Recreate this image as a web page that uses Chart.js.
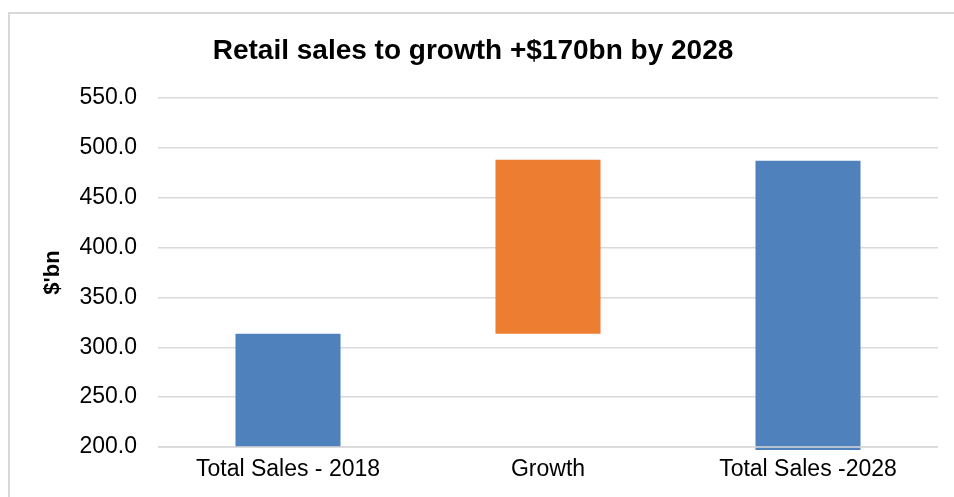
<!DOCTYPE html>
<html>
<head>
<meta charset="utf-8">
<script src="https://cdn.jsdelivr.net/npm/chart.js@4"></script>
<style>
  html, body { margin: 0; padding: 0; background: #fff; overflow: hidden; }
  #frame { position: absolute; left: 8px; top: 12px; width: 960px; height: 500px;
           border: 2px solid #d9d9d9; box-sizing: border-box; }
  #wrap { position: absolute; left: 0; top: 0; width: 954px; height: 497px; }
</style>
</head>
<body>
<div id="frame"></div>
<div id="wrap"><canvas id="salesChart"></canvas></div>
<script>
// ── 데이터 ──
const categories = ['Total Sales - 2018', 'Growth', 'Total Sales -2028'];
const barBase = [200, 313.5, 197];
const barTop = [313.5, 488, 487];
const barColors = ['#4f81bd', '#ed7d31', '#4f81bd'];
const yMin = 200, yMax = 550, yStep = 50;

const FONT = 'Arial, "Liberation Sans", sans-serif';
const GRID = '#d9d9d9';

// 바닥 격자선을 막대 위에 다시 그림
const baseLine = {
  id: 'baseLine',
  afterDatasetsDraw(chart) {
    const { ctx, chartArea, scales } = chart;
    const y = scales.y.getPixelForValue(yMin);
    ctx.save();
    ctx.strokeStyle = GRID;
    ctx.lineWidth = 1.5;
    ctx.beginPath();
    ctx.moveTo(chartArea.left, y);
    ctx.lineTo(chartArea.right, y);
    ctx.stroke();
    ctx.restore();
  }
};

const ctx = document.getElementById('salesChart').getContext('2d');
new Chart(ctx, {
  type: 'bar',
  data: {
    labels: categories,
    datasets: [{
      data: barBase.map((b, i) => [b, barTop[i]]),
      backgroundColor: barColors,
      borderWidth: 0,
      categoryPercentage: 1,
      barPercentage: 0.404,
      clip: 6
    }]
  },
  plugins: [baseLine],
  options: {
    responsive: true,
    maintainAspectRatio: false,
    animation: false,
    layout: { padding: { left: 8, right: 16, top: 0, bottom: 0 } },
    plugins: {
      legend: { display: false },
      tooltip: { enabled: false },
      title: {
        display: true,
        text: 'Retail sales to growth +$170bn by 2028',
        color: '#000',
        font: { family: FONT, size: 28, weight: 'bold', lineHeight: 1.2 },
        padding: { top: 34, bottom: 30.4 }
      }
    },
    scales: {
      x: {
        grid: { display: false, drawTicks: false },
        border: { display: false },
        ticks: { color: '#000', padding: 9, font: { family: FONT, size: 23 } },
        afterFit: s => { s.height = 50; }
      },
      y: {
        min: yMin,
        max: yMax,
        grid: { color: GRID, lineWidth: 1.5, drawTicks: false },
        border: { display: false },
        ticks: {
          stepSize: yStep,
          color: '#000',
          padding: 21,
          font: { family: FONT, size: 23 },
          callback: v => v.toFixed(1)
        },
        title: {
          display: true,
          text: "$'bn",
          color: '#000',
          font: { family: FONT, size: 22, weight: 'bold', lineHeight: 1.2 },
          padding: { top: 32, bottom: 0 }
        },
        afterFit: s => { s.width = 150; }
      }
    }
  }
});
</script>
</body>
</html>
